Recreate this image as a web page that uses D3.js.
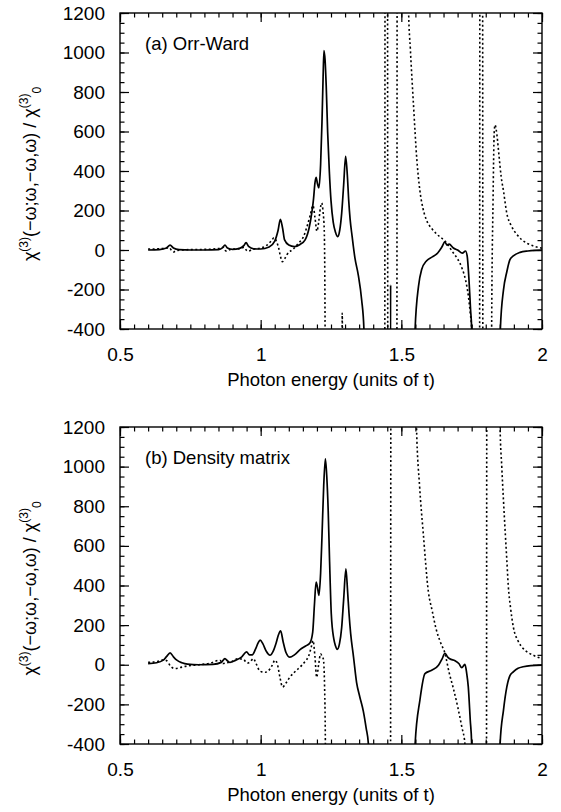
<!DOCTYPE html>
<html>
<head>
<meta charset="utf-8">
<script src="https://cdnjs.cloudflare.com/ajax/libs/d3/7.8.5/d3.min.js"></script>
<style>
  body { margin: 0; background: #fff; }
  svg { display: block; }
</style>
</head>
<body>
<script>
// Tick values and panel titles
var xTicks = [0.5, 1, 1.5, 2];
var yTicks = [-400, -200, 0, 200, 400, 600, 800, 1000, 1200];
var panelTitles = ["(a) Orr-Ward", "(b) Density matrix"];
var xTitle = "Photon energy (units of t)";

// [photon energy, chi3]; +/-3000 = curve runs off the plot
var orrWardSolid = [
  [0.600, 0], [0.640, 2], [0.665, 10], [0.678, 25], [0.690, 10], [0.710, 2], [0.750, 0],
  [0.800, 0], [0.850, 2], [0.865, 12], [0.873, 25], [0.882, 10], [0.900, 3], [0.925, 8],
  [0.940, 22], [0.948, 37], [0.957, 18], [0.975, 6], [1.000, 5], [1.030, 15], [1.050, 45],
  [1.062, 100], [1.070, 155], [1.078, 110], [1.085, 51], [1.100, 25], [1.120, 17],
  [1.140, 28], [1.158, 51], [1.172, 110], [1.182, 190], [1.188, 260], [1.193, 340],
  [1.197, 368], [1.202, 335], [1.207, 314], [1.213, 430], [1.218, 650], [1.222, 880],
  [1.225, 1010], [1.229, 960], [1.233, 830], [1.238, 600], [1.244, 400], [1.250, 250],
  [1.258, 140], [1.266, 90], [1.274, 68], [1.281, 100], [1.288, 187], [1.295, 330],
  [1.302, 474], [1.308, 380], [1.313, 250], [1.318, 155], [1.325, 70], [1.335, -40],
  [1.347, -127], [1.359, -253], [1.367, -400], [1.372, -3000], [1.458, -3000],
  [1.462, -177], [1.465, -3000], [1.545, -3000], [1.549, -400], [1.561, -184],
  [1.572, -100], [1.590, -54], [1.610, -35], [1.626, -20], [1.644, 15], [1.655, 41],
  [1.662, 25], [1.670, 30], [1.685, 10], [1.700, 0], [1.717, -16], [1.728, -5],
  [1.734, -30], [1.740, -140], [1.746, -300], [1.750, -400], [1.755, -3000],
  [1.848, -3000], [1.852, -400], [1.863, -203], [1.875, -110], [1.886, -49],
  [1.898, -30], [1.922, -12], [1.950, -5], [1.975, -2], [2.000, -1]
];

var orrWardDotted = [
  [0.600, 5], [0.640, 6], [0.665, 10], [0.675, 12], [0.684, -4], [0.690, -10], [0.700, -3],
  [0.750, 2], [0.800, 3], [0.855, 8], [0.867, 14], [0.874, -2], [0.879, -6], [0.890, 2],
  [0.930, 8], [0.941, 14], [0.950, -2], [0.956, -6], [0.970, 3], [1.000, 10], [1.020, 22],
  [1.040, 50], [1.047, 62], [1.057, 40], [1.064, 10], [1.070, -30], [1.077, -59],
  [1.085, -45], [1.095, -20], [1.116, 5], [1.135, 35], [1.152, 67], [1.165, 120],
  [1.176, 175], [1.186, 225], [1.193, 165], [1.200, 95], [1.206, 140], [1.212, 210],
  [1.217, 238], [1.222, 190], [1.226, 100], [1.229, -400], [1.232, -3000],
  [1.286, -3000], [1.290, -320], [1.294, -3000], [1.440, -3000], [1.443, 3000],
  [1.450, 3000], [1.453, -3000], [1.483, -3000], [1.486, 3000], [1.523, 3000],
  [1.526, 1200], [1.532, 1020], [1.543, 740], [1.555, 460], [1.566, 300], [1.577, 210],
  [1.590, 150], [1.610, 105], [1.626, 80], [1.655, 45], [1.685, -15], [1.700, -45],
  [1.715, -90], [1.728, -150], [1.738, -230], [1.745, -320], [1.750, -400],
  [1.753, -3000], [1.777, -3000], [1.780, 3000], [1.788, 3000], [1.791, -3000],
  [1.818, -3000], [1.821, -400], [1.826, 250], [1.830, 590], [1.833, 633], [1.840, 580],
  [1.847, 480], [1.855, 370], [1.863, 300], [1.875, 185], [1.890, 125], [1.910, 80],
  [1.930, 50], [1.950, 32], [1.975, 18], [2.000, 9]
];

var densitySolid = [
  [0.600, 6], [0.630, 10], [0.654, 23], [0.666, 42], [0.678, 60], [0.690, 40], [0.702, 23],
  [0.720, 10], [0.740, 3], [0.780, 0], [0.830, 2], [0.860, 12], [0.873, 31], [0.882, 20],
  [0.891, 12], [0.910, 22], [0.933, 40], [0.950, 65], [0.960, 50], [0.970, 50],
  [0.982, 80], [0.991, 110], [0.998, 124], [1.008, 105], [1.020, 68], [1.033, 48],
  [1.045, 70], [1.055, 110], [1.063, 150], [1.071, 171], [1.080, 115], [1.090, 62],
  [1.104, 38], [1.120, 50], [1.140, 76], [1.160, 95], [1.175, 110], [1.185, 165],
  [1.191, 300], [1.197, 417], [1.202, 390], [1.207, 350], [1.213, 460], [1.218, 650],
  [1.224, 900], [1.230, 1039], [1.235, 950], [1.240, 779], [1.245, 520], [1.251, 257],
  [1.260, 130], [1.266, 95], [1.272, 77], [1.280, 105], [1.288, 189], [1.295, 330],
  [1.303, 484], [1.309, 370], [1.314, 260], [1.320, 156], [1.330, 40], [1.341, -90],
  [1.352, -160], [1.365, -235], [1.375, -320], [1.383, -400], [1.388, -3000],
  [1.545, -3000], [1.549, -400], [1.566, -179], [1.584, -45], [1.608, -28], [1.632, -3],
  [1.645, 30], [1.655, 58], [1.664, 40], [1.672, 30], [1.691, 20], [1.705, 5],
  [1.715, -15], [1.726, 2], [1.732, -40], [1.738, -112], [1.745, -280], [1.750, -400],
  [1.755, -3000], [1.846, -3000], [1.851, -400], [1.863, -230], [1.875, -112],
  [1.886, -55], [1.898, -36], [1.915, -18], [1.933, -10], [1.960, -4], [2.000, -2]
];

var densityDotted = [
  [0.600, 12], [0.630, 15], [0.655, 25], [0.666, 20], [0.680, -8], [0.696, -19],
  [0.720, -12], [0.740, -6], [0.780, 0], [0.820, 8], [0.855, 23], [0.866, 6], [0.880, 10],
  [0.900, 18], [0.920, 31], [0.940, 25], [0.953, 8], [0.963, 15], [0.974, 31], [0.985, 2],
  [0.995, -28], [1.004, -36], [1.016, -38], [1.028, -30], [1.040, -5], [1.051, 23],
  [1.060, 0], [1.068, -60], [1.078, -112], [1.090, -92], [1.104, -62], [1.120, -38],
  [1.146, -3], [1.160, 20], [1.170, 42], [1.180, 90], [1.186, 122], [1.193, 40],
  [1.199, -63], [1.206, 0], [1.213, 55], [1.218, 42], [1.223, 28], [1.227, -100],
  [1.230, -400], [1.233, -3000], [1.460, -3000], [1.464, 3000], [1.551, 3000],
  [1.554, 1200], [1.565, 900], [1.578, 663], [1.596, 370], [1.610, 270], [1.623, 184],
  [1.640, 110], [1.655, 58], [1.670, -40], [1.685, -120], [1.700, -210], [1.715, -314],
  [1.726, -400], [1.730, -3000], [1.801, -3000], [1.805, 3000], [1.848, 3000],
  [1.851, 1200], [1.857, 1000], [1.863, 831], [1.870, 650], [1.875, 528], [1.880, 400],
  [1.888, 290], [1.898, 191], [1.915, 120], [1.933, 82], [1.950, 62], [1.969, 48],
  [2.000, 30]
];

var width = 561, height = 812;
var left = 120, right = 542;
var fontFamily = "'Liberation Sans', Arial, Helvetica, sans-serif";

var svg = d3.select("body")
  .append("svg")
    .attr("width", width)
    .attr("height", height)
    .style("font-family", fontFamily);

var x = d3.scaleLinear().domain([0.5, 2]).range([left, right]);
var xMinor = d3.range(0.5, 2.0001, 0.05);
var yMinor = d3.range(-400, 1200.1, 50);

function drawPanel(i, top, bottom, solid, dotted) {
  var y = d3.scaleLinear().domain([-400, 1200]).range([bottom, top]);
  var g = svg.append("g");

  // clip the curves to the frame
  g.append("clipPath")
      .attr("id", "clip" + i)
    .append("rect")
      .attr("x", left)
      .attr("y", top)
      .attr("width", right - left)
      .attr("height", bottom - top);

  var line = d3.line()
    .x(function(d) { return x(d[0]); })
    .y(function(d) { return y(d[1]); })
    .curve(d3.curveMonotoneX);

  g.append("path")
    .datum(dotted)
    .attr("clip-path", "url(#clip" + i + ")")
    .attr("fill", "none")
    .attr("stroke", "#000")
    .attr("stroke-width", 1.6)
    .attr("stroke-dasharray", "2,2.5")
    .attr("d", line);

  g.append("path")
    .datum(solid)
    .attr("clip-path", "url(#clip" + i + ")")
    .attr("fill", "none")
    .attr("stroke", "#000")
    .attr("stroke-width", 1.7)
    .attr("stroke-linejoin", "round")
    .attr("d", line);

  // inward ticks on all four sides
  function ticks(axis, tx, ty) {
    g.append("g")
      .attr("transform", "translate(" + tx + "," + ty + ")")
      .call(axis)
      .call(function(s) { s.select(".domain").remove(); })
      .attr("font-size", 19)
      .attr("font-family", fontFamily)
      .selectAll("line").attr("stroke-width", 1.2);
  }
  var fmt = function(d) { return String(d); };

  ticks(d3.axisBottom(x).tickValues(xMinor).tickSize(-4.5).tickSizeOuter(0).tickFormat(""), 0, bottom);
  ticks(d3.axisBottom(x).tickValues(xTicks).tickSize(-9).tickSizeOuter(0).tickPadding(19).tickFormat(fmt), 0, bottom);
  ticks(d3.axisTop(x).tickValues(xMinor).tickSize(-4.5).tickSizeOuter(0).tickFormat(""), 0, top);
  ticks(d3.axisTop(x).tickValues(xTicks).tickSize(-9).tickSizeOuter(0).tickFormat(""), 0, top);
  ticks(d3.axisLeft(y).tickValues(yMinor).tickSize(-4.5).tickSizeOuter(0).tickFormat(""), left, 0);
  ticks(d3.axisLeft(y).tickValues(yTicks).tickSize(-9).tickSizeOuter(0).tickPadding(15).tickFormat(fmt), left, 0);
  ticks(d3.axisRight(y).tickValues(yMinor).tickSize(-4.5).tickSizeOuter(0).tickFormat(""), right, 0);
  ticks(d3.axisRight(y).tickValues(yTicks).tickSize(-9).tickSizeOuter(0).tickFormat(""), right, 0);

  // frame
  g.append("rect")
    .attr("x", left)
    .attr("y", top)
    .attr("width", right - left)
    .attr("height", bottom - top)
    .attr("fill", "none")
    .attr("stroke", "#000")
    .attr("stroke-width", 1.4);

  // panel label
  g.append("text")
    .attr("x", 145)
    .attr("y", top + 37)
    .style("font-size", "18.5px")
    .text(panelTitles[i]);

  // x axis title
  g.append("text")
    .attr("x", (left + right) / 2)
    .attr("y", bottom + 57)
    .style("text-anchor", "middle")
    .style("font-size", "18.5px")
    .text(xTitle);

  // y axis title, rotated
  var yt = g.append("text")
    .attr("transform", "translate(36," + ((top + bottom) / 2 + 3) + ") rotate(-90)")
    .style("text-anchor", "middle")
    .style("font-size", "18px");
  yt.append("tspan").text("\u03c7");
  yt.append("tspan").attr("dy", -8).style("font-size", "12px").text("(3)");
  yt.append("tspan").attr("dy", 8).text("(\u2212\u03c9;\u03c9,\u2212\u03c9,\u03c9) / \u03c7");
  yt.append("tspan").attr("dy", -8).style("font-size", "12px").text("(3)");
  yt.append("tspan").attr("dy", 13).style("font-size", "12px").text("0");
}

drawPanel(0, 13, 329, orrWardSolid, orrWardDotted);
drawPanel(1, 427, 744, densitySolid, densityDotted);
</script>
</body>
</html>
